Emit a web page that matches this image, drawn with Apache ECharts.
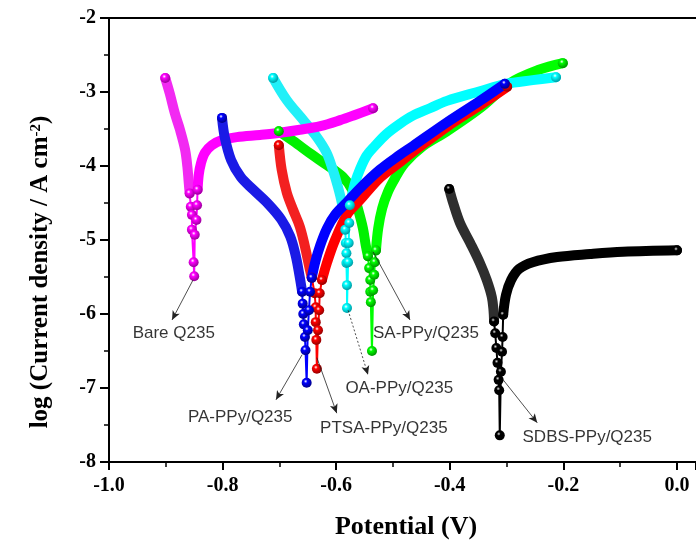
<!DOCTYPE html>
<html><head><meta charset="utf-8">
<script src="https://cdn.jsdelivr.net/npm/echarts@6/dist/echarts.min.js"></script>
<style>html,body{margin:0;padding:0;background:#fff}#c{width:696px;height:542px}</style>
</head><body><div id="c"></div>
<script>
// ---- data: [potential (V), log current density] ----
const bareCathodic = [[-0.901,-2.81],[-0.893,-3.02],[-0.884,-3.29],[-0.875,-3.51],[-0.866,-3.78],[-0.862,-4.01],[-0.860,-4.19],[-0.858,-4.37]];
const bareNearEcorr = [[-0.856,-4.55],[-0.854,-4.66],[-0.854,-4.86],[-0.851,-5.30],[-0.850,-5.49],[-0.849,-4.93],[-0.846,-4.73],[-0.845,-4.53]];
const bareAnodic = [[-0.844,-4.32],[-0.842,-4.12],[-0.838,-3.96],[-0.831,-3.82],[-0.819,-3.72],[-0.801,-3.65],[-0.775,-3.61],[-0.734,-3.58],[-0.699,-3.55],[-0.664,-3.51],[-0.628,-3.46],[-0.593,-3.38],[-0.567,-3.31],[-0.535,-3.22]];

const paCathodic = [[-0.801,-3.35],[-0.796,-3.62],[-0.785,-3.92],[-0.768,-4.15],[-0.746,-4.32],[-0.720,-4.51],[-0.697,-4.72],[-0.681,-4.95],[-0.671,-5.22],[-0.664,-5.51],[-0.660,-5.70]];
const paNearEcorr = [[-0.659,-5.86],[-0.658,-6.00],[-0.657,-6.14],[-0.655,-6.31],[-0.654,-6.49],[-0.652,-6.93],[-0.650,-6.22],[-0.648,-5.95],[-0.646,-5.70]];
const paAnodic = [[-0.643,-5.51],[-0.637,-5.30],[-0.628,-5.07],[-0.616,-4.84],[-0.602,-4.66],[-0.581,-4.49],[-0.558,-4.30],[-0.523,-4.05],[-0.488,-3.85],[-0.465,-3.73],[-0.405,-3.41],[-0.347,-3.12],[-0.303,-2.89]];

const ptsaCathodic = [[-0.701,-3.72],[-0.696,-4.05],[-0.687,-4.36],[-0.676,-4.59],[-0.664,-4.82],[-0.655,-5.09],[-0.648,-5.34],[-0.643,-5.51]];
const ptsaNearEcorr = [[-0.638,-5.72],[-0.636,-5.91],[-0.636,-6.11],[-0.635,-6.35],[-0.634,-6.74],[-0.632,-6.22],[-0.630,-5.95],[-0.629,-5.72]];
const ptsaAnodic = [[-0.625,-5.54],[-0.616,-5.30],[-0.602,-5.00],[-0.581,-4.66],[-0.558,-4.46],[-0.523,-4.16],[-0.488,-3.95],[-0.465,-3.81],[-0.405,-3.47],[-0.347,-3.18],[-0.299,-2.93]];

const saCathodic = [[-0.701,-3.53],[-0.676,-3.66],[-0.644,-3.84],[-0.616,-3.99],[-0.588,-4.15],[-0.572,-4.32],[-0.562,-4.57],[-0.553,-4.84],[-0.548,-5.07],[-0.544,-5.22]];
const saNearEcorr = [[-0.542,-5.38],[-0.540,-5.54],[-0.540,-5.70],[-0.539,-5.84],[-0.537,-6.50],[-0.535,-5.68],[-0.533,-5.47],[-0.532,-5.30]];
const saAnodic = [[-0.530,-5.14],[-0.526,-4.84],[-0.519,-4.57],[-0.509,-4.35],[-0.496,-4.16],[-0.479,-3.96],[-0.447,-3.73],[-0.405,-3.53],[-0.347,-3.22],[-0.294,-2.88],[-0.243,-2.70],[-0.201,-2.61]];

const oaCathodic = [[-0.711,-2.81],[-0.687,-3.11],[-0.658,-3.38],[-0.634,-3.61],[-0.617,-3.82],[-0.606,-4.05],[-0.597,-4.28],[-0.590,-4.50],[-0.586,-4.70],[-0.584,-4.86]];
const oaNearEcorr = [[-0.583,-5.04],[-0.582,-5.18],[-0.582,-5.31],[-0.581,-5.61],[-0.581,-5.92],[-0.579,-5.30],[-0.578,-5.04],[-0.577,-4.77]];
const oaAnodic = [[-0.576,-4.53],[-0.570,-4.32],[-0.563,-4.14],[-0.548,-3.88],[-0.532,-3.73],[-0.512,-3.57],[-0.488,-3.43],[-0.465,-3.32],[-0.435,-3.22],[-0.405,-3.12],[-0.347,-2.99],[-0.301,-2.89],[-0.254,-2.84],[-0.213,-2.80]];

const sdbsCathodic = [[-0.401,-4.31],[-0.394,-4.50],[-0.382,-4.77],[-0.364,-5.04],[-0.347,-5.31],[-0.335,-5.54],[-0.326,-5.77],[-0.323,-5.95],[-0.322,-6.10]];
const sdbsNearEcorr = [[-0.320,-6.26],[-0.318,-6.46],[-0.316,-6.66],[-0.314,-6.89],[-0.313,-7.03],[-0.312,-7.64],[-0.310,-6.78],[-0.308,-6.51],[-0.307,-6.31]];
const sdbsAnodic = [[-0.306,-6.01],[-0.301,-5.74],[-0.292,-5.54],[-0.278,-5.39],[-0.254,-5.30],[-0.211,-5.23],[-0.153,-5.19],[-0.095,-5.16],[0.000,-5.14]];

const annotationNames = ['Bare Q235','PA-PPy/Q235','PTSA-PPy/Q235','OA-PPy/Q235','SA-PPy/Q235','SDBS-PPy/Q235'];
const annotationPos = [[-0.886,-6.26],[-0.769,-7.39],[-0.516,-7.54],[-0.489,-7.00],[-0.442,-6.26],[-0.158,-7.66]];
const arrowFrom = [[-0.852,-5.54],[-0.660,-6.55],[-0.634,-6.59],[-0.579,-5.95],[-0.535,-5.16],[-0.306,-6.89]];
const arrowTo = [[-0.889,-6.08],[-0.706,-7.16],[-0.599,-7.34],[-0.544,-6.82],[-0.470,-6.08],[-0.246,-7.47]];
const arrowDashed = [false,false,false,true,false,false];

const xMin = -1.0, xMax = 0.0335, xInterval = 0.2;
const yMin = -8, yMax = -2, yInterval = 1;

// ---- styling helpers ----
function ball(c, dark, hi) {
  return {type:'radial', x:0.4, y:0.35, r:0.62, colorStops:[
    {offset:0, color: hi || '#ffffff'}, {offset:0.3, color:c}, {offset:1, color:dark}]};
}
function curve(cath, near, anod, color, cathBand, dark, hi) {
  const common = {type:'line', silent:true, animation:false, smooth:0.35, z:2};
  const ballStyle = {color: ball(color, dark, hi)};
  return [
    Object.assign({}, common, {data:cath, symbol:'circle', showAllSymbol:true,
      symbolSize:(v,p)=>p.dataIndex===0?10:0, itemStyle:ballStyle,
      lineStyle:{width:10, color:cathBand, cap:'round', join:'round'}}),
    Object.assign({}, common, {data:anod, symbol:'circle', showAllSymbol:true,
      symbolSize:(v,p)=>p.dataIndex===anod.length-1?10:0, itemStyle:ballStyle,
      lineStyle:{width:10, color:color, cap:'round', join:'round'}}),
    Object.assign({}, common, {smooth:false, data:[cath[cath.length-1]].concat(near, [anod[0]]),
      symbol:'circle', showAllSymbol:true, symbolSize:10, itemStyle:ballStyle,
      lineStyle:{width:2, color:color}})
  ];
}

const series = [].concat(
  curve(saCathodic, saNearEcorr, saAnodic, '#00ff00', '#00f000', '#009a00'),
  curve(oaCathodic, oaNearEcorr, oaAnodic, '#00ffff', '#20f0f8', '#00a0a8'),
  curve(bareCathodic, bareNearEcorr, bareAnodic, '#ff00ff', '#f22af2', '#a000a0'),
  curve(ptsaCathodic, ptsaNearEcorr, ptsaAnodic, '#ff0000', '#f32020', '#9a0000'),
  curve(paCathodic, paNearEcorr, paAnodic, '#0000ff', '#1a1ae6', '#000090'),
  curve(sdbsCathodic, sdbsNearEcorr, sdbsAnodic, '#000000', '#2e2e2e', '#000000', '#dddddd')
);

// annotations: text labels + arrows
series.push({
  type:'scatter', silent:true, animation:false, z:5,
  data: annotationPos.map((p,i)=>[p[0],p[1],annotationNames[i]]),
  symbolSize:0,
  label:{show:true, position:'inside', formatter:p=>p.value[2],
    fontSize:17, fontFamily:'"Liberation Sans", Arial, sans-serif', color:'#000'},
  markLine:{silent:true, animation:false, symbol:['none','arrow'], symbolSize:[6,9],
    label:{show:false},
    lineStyle:{color:'#222', width:0.8, type:'solid'},
    emphasis:{disabled:true},
    data: arrowFrom.map((f,i)=>[
      {coord:f, lineStyle:{type: arrowDashed[i] ? [2,2] : 'solid', color:'#222', width:0.8}},
      {coord:arrowTo[i]}])}
});

const tickFont = {fontSize:20, fontWeight:'bold', fontFamily:'"Liberation Serif", "Times New Roman", serif', color:'#000'};
const axisLine = {show:true, onZero:false, lineStyle:{color:'#000', width:2}};

const option = {
  backgroundColor:'#ffffff',
  animation:false,
  grid:{left:109, right:0, top:18, bottom:80},
  xAxis:[{
    type:'value', min:xMin, max:xMax, interval:xInterval, position:'bottom',
    axisLine:axisLine,
    axisTick:{show:true, inside:false, length:8, lineStyle:{width:2, color:'#000'}},
    minorTick:{show:true, splitNumber:2, length:5, lineStyle:{width:1.5, color:'#000'}},
    splitLine:{show:false},
    axisLabel:Object.assign({margin:14, showMaxLabel:false,
      formatter:v=>Math.abs(v)<1e-9?'0.0':v.toFixed(1)}, tickFont)
  },{
    type:'value', min:xMin, max:xMax, position:'top',
    axisLine:axisLine, axisTick:{show:false}, axisLabel:{show:false}, splitLine:{show:false}
  }],
  yAxis:{
    type:'value', min:yMin, max:yMax, interval:yInterval,
    axisLine:axisLine,
    axisTick:{show:true, inside:false, length:9, lineStyle:{width:2, color:'#000'}},
    minorTick:{show:true, splitNumber:2, length:5, lineStyle:{width:1.5, color:'#000'}},
    splitLine:{show:false},
    axisLabel:Object.assign({margin:13}, tickFont)
  },
  graphic:[
    {type:'text', x:406, y:527, silent:true,
      style:{text:'Potential (V)', fontSize:26, fontWeight:'bold',
        fontFamily:'"Liberation Serif", "Times New Roman", serif', fill:'#000',
        align:'center', verticalAlign:'middle'}},
    {type:'text', x:41, y:272, rotation:Math.PI/2, silent:true,
      style:{text:'{a|log (Current density / A cm}{s|-2}{a|)}',
        align:'center', verticalAlign:'middle', fill:'#000',
        rich:{
          a:{fontSize:25, fontWeight:'bold', fontFamily:'"Liberation Serif", "Times New Roman", serif', fill:'#000', verticalAlign:'middle'},
          s:{fontSize:15, fontWeight:'bold', fontFamily:'"Liberation Serif", "Times New Roman", serif', fill:'#000', verticalAlign:'top'}
        }}}
  ],
  series:series
};

const chart = echarts.init(document.getElementById('c'), null, {renderer:'canvas'});
chart.setOption(option);
</script>
</body></html>
